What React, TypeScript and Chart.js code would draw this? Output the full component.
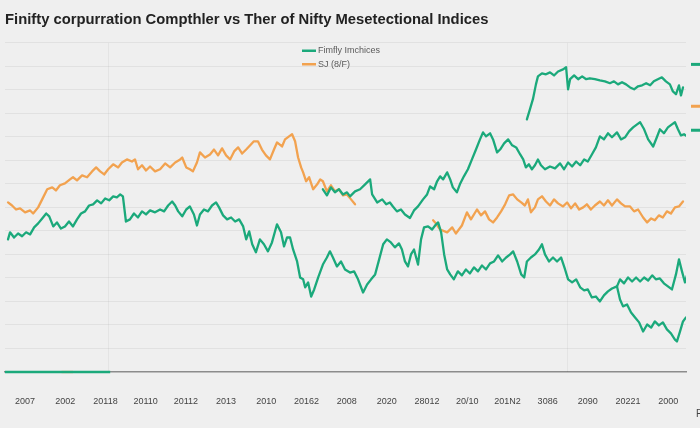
import React, { useEffect, useRef } from "react";
import { Chart, registerables } from "chart.js";

Chart.register(...registerables);

const TITLE = "Finifty corpurration Compthler vs Ther of Nifty Mesetectional Indices";
const X_LABELS = ["2007", "2002", "20118", "20110", "20112", "2013", "2010", "20162", "2008", "2020", "28012", "20/10", "201N2", "3086", "2090", "20221", "2000"];
const X_STEP = 12;
const LEGEND_LABELS = ["Fimfly Imchices", "SJ (8/F)"];
const GREEN = "#1ba97b";
const ORANGE = "#f2a24f";

const GREEN_TOP: [number, number][] = [
  [151.3, 1074], [152.2, 1117], [153.1, 1160], [154.0, 1223], [154.6, 1257], [155.8, 1270], [157.0, 1266],
  [158.2, 1274], [159.4, 1261], [160.6, 1278], [162.1, 1287], [163.0, 1296], [163.6, 1202], [164.2, 1245],
  [165.4, 1261], [166.6, 1245], [167.8, 1257], [169.0, 1245], [170.1, 1249], [171.6, 1245], [173.1, 1240],
  [174.6, 1236], [176.1, 1228], [177.3, 1236], [178.5, 1223], [179.7, 1232], [180.9, 1223], [182.1, 1210],
  [183.3, 1202], [184.5, 1215], [185.7, 1219], [186.9, 1228], [188.1, 1219], [189.2, 1236], [190.4, 1245],
  [191.6, 1253], [192.8, 1236], [194.0, 1223], [194.9, 1193], [195.8, 1181], [196.7, 1219], [197.3, 1176],
  [197.9, 1210],
];

const GREEN_MID: [number, number][] = [
  [90.4, 777], [91.6, 751], [92.8, 785], [94.0, 764], [95.2, 777], [96.4, 755], [97.6, 764], [98.5, 747],
  [100.0, 768], [101.5, 777], [103.0, 798], [104.5, 819], [105.1, 755], [106.6, 721], [108.1, 734], [109.3, 713],
  [110.4, 721], [111.3, 704], [112.5, 683], [113.7, 691], [114.9, 670], [116.4, 655], [117.6, 687], [118.8, 704],
  [120.3, 734], [121.5, 755], [122.4, 789], [123.6, 777], [124.5, 811], [125.4, 832], [126.3, 819], [127.5, 849],
  [128.4, 819], [129.2, 785], [130.4, 764], [131.3, 798], [132.5, 832], [133.7, 862], [134.9, 904], [136.1, 946],
  [137.3, 989], [138.2, 1019], [139.1, 1002], [140.3, 1015], [141.2, 989], [142.4, 934], [143.3, 946], [144.5, 972],
  [145.7, 989], [146.9, 964], [148.1, 955], [149.3, 925], [150.2, 904], [151.0, 870], [151.9, 883], [152.8, 862],
  [153.7, 879], [154.6, 904], [155.5, 879], [156.7, 862], [158.2, 874], [159.7, 866], [161.2, 887], [162.4, 862],
  [163.6, 891], [164.8, 874], [166.0, 895], [167.2, 879], [168.4, 904], [169.5, 895], [170.7, 925], [171.9, 955],
  [173.1, 1002], [174.3, 989], [175.5, 1015], [176.7, 998], [178.2, 1019], [179.4, 989], [180.6, 998], [181.8, 1023],
  [183.0, 1040], [184.2, 1053], [185.1, 1062], [186.3, 1032], [187.5, 989], [189.0, 959], [190.1, 998], [191.0, 1032],
  [192.2, 1015], [193.4, 1040], [194.6, 1053], [195.5, 1062], [196.4, 1032], [197.3, 1006], [198.2, 1011], [199.1, 1002],
];

const GREEN_LOW: [number, number][] = [
  [-3.6, 564], [-3.0, 594], [-1.8, 572], [-0.6, 589], [0.6, 577], [1.8, 594], [3.0, 585], [4.2, 615], [5.4, 632],
  [6.6, 653], [7.8, 674], [8.7, 662], [9.9, 619], [11.0, 636], [12.2, 610], [13.4, 619], [14.6, 640], [15.8, 619],
  [17.0, 649], [18.2, 674], [19.4, 683], [20.6, 708], [21.8, 713], [23.0, 730], [24.2, 717], [25.4, 738], [26.6, 730],
  [27.8, 747], [28.9, 743], [29.9, 755], [30.7, 747], [31.6, 640], [32.8, 649], [34.0, 674], [35.2, 657], [36.4, 683],
  [37.6, 670], [38.8, 687], [40.3, 679], [41.8, 691], [43.0, 683], [44.2, 708], [45.4, 725], [46.3, 708], [47.2, 683],
  [48.4, 662], [49.6, 691], [50.7, 704], [51.9, 670], [52.8, 623], [53.7, 670], [54.9, 691], [56.1, 683], [57.3, 708],
  [58.5, 721], [59.4, 700], [60.6, 666], [61.8, 649], [63.0, 657], [64.2, 640], [65.4, 649], [66.6, 619], [67.5, 564],
  [68.4, 598], [69.3, 543], [70.4, 509], [71.6, 564], [72.8, 543], [74.0, 513], [75.2, 551], [76.7, 628], [77.9, 594],
  [78.8, 534], [79.7, 572], [80.6, 572], [81.5, 521], [82.7, 470], [83.6, 402], [84.5, 394], [85.1, 360], [86.0, 381],
  [86.9, 321], [87.8, 351], [89.0, 402], [90.4, 457], [91.6, 487], [92.5, 513], [93.4, 487], [94.6, 449], [95.8, 470],
  [97.0, 436], [98.5, 423], [99.7, 428], [100.9, 394], [102.4, 338], [103.6, 372], [104.8, 394], [106.0, 415],
  [107.2, 479], [108.4, 543], [109.5, 564], [110.7, 551], [111.9, 530], [113.1, 547], [114.0, 521], [114.9, 470],
  [115.8, 449], [116.7, 500], [117.6, 521], [118.8, 457], [119.7, 564], [120.6, 615], [121.8, 619], [123.0, 606],
  [124.2, 628], [124.8, 636], [125.7, 594], [126.6, 500], [127.5, 436], [128.4, 415], [129.5, 394], [130.7, 428],
  [131.9, 411], [133.1, 436], [134.3, 419], [135.5, 445], [136.7, 428], [137.9, 453], [139.1, 436], [140.3, 462],
  [141.5, 470], [142.7, 496], [143.9, 470], [145.1, 487], [146.3, 500], [147.2, 513], [148.4, 470], [149.6, 415],
  [150.5, 402], [151.3, 470], [152.5, 487], [153.7, 500], [154.9, 521], [155.8, 543], [156.7, 500], [157.9, 470],
  [159.1, 487], [160.3, 470], [161.5, 487], [162.7, 436], [163.6, 394], [164.8, 381], [166.0, 394], [167.2, 360],
  [168.4, 347], [169.5, 351], [170.7, 317], [171.9, 321], [173.1, 300], [174.3, 326], [175.5, 343], [176.7, 355],
  [178.2, 364],
];

const GREEN_LOW_UPPER: [number, number][] = [
  [178.2, 364], [179.1, 394], [180.3, 377], [181.5, 402], [182.7, 385], [183.9, 402], [185.1, 385], [186.3, 402],
  [187.5, 389], [188.7, 411], [189.8, 394], [191.0, 398], [192.2, 377], [193.4, 364], [194.6, 351], [195.8, 415],
  [196.7, 479], [197.6, 428], [198.5, 381], [199.1, 411],
];

const GREEN_LOW_LOWER: [number, number][] = [
  [178.2, 364], [179.1, 308], [180.0, 279], [181.2, 287], [182.4, 253], [183.6, 232], [184.8, 211], [186.0, 172],
  [187.2, 202], [188.4, 189], [189.5, 215], [190.7, 198], [191.9, 211], [193.1, 181], [194.3, 164], [195.5, 138],
  [196.1, 130], [197.0, 172], [197.9, 215], [198.8, 232],
];

const ORANGE_LEFT: [number, number][] = [
  [-3.6, 721], [-2.4, 708], [-1.2, 691], [0, 696], [1.5, 679], [3.0, 687], [3.9, 674], [5.4, 700], [6.6, 734],
  [8.1, 777], [9.6, 785], [10.7, 772], [11.9, 794], [13.4, 802], [14.9, 819], [15.8, 828], [17.0, 815], [18.5, 836],
  [20.0, 828], [21.5, 853], [22.7, 870], [23.9, 853], [25.1, 840], [26.3, 862], [27.8, 883], [29.3, 870], [30.4, 891],
  [31.9, 904], [33.4, 895], [34.3, 904], [35.2, 862], [36.4, 879], [37.6, 857], [38.8, 874], [40.3, 853], [41.8, 862],
  [43.3, 887], [44.8, 870], [46.3, 891], [47.8, 904], [48.4, 912], [49.6, 870], [50.7, 862], [51.6, 853], [52.8, 891],
  [53.7, 934], [55.2, 912], [56.7, 925], [57.9, 946], [59.1, 921], [60.3, 951], [61.5, 921], [62.7, 904], [63.9, 938],
  [65.1, 955], [66.3, 929], [67.5, 946], [68.7, 964], [69.8, 981], [71.0, 981], [72.2, 946], [73.4, 921], [74.6, 904],
  [75.8, 946], [76.7, 976], [78.2, 959], [79.1, 989], [80.3, 1002], [81.2, 1011], [82.1, 981], [83.0, 912], [83.9, 870],
  [84.5, 849], [85.4, 811], [86.3, 828], [87.5, 777], [88.7, 798], [89.6, 819], [90.4, 811], [91.6, 768], [92.8, 794],
  [94.0, 768], [95.2, 777], [96.4, 751], [97.6, 755], [98.8, 734], [100.0, 713],
];

const ORANGE_RIGHT: [number, number][] = [
  [123.3, 645], [123.9, 636], [125.4, 606],
  [127.5, 594], [129.0, 615], [130.1, 589], [131.9, 623], [133.4, 679], [134.6, 649], [136.4, 691], [137.6, 666],
  [138.8, 683], [140.0, 649], [141.2, 636], [142.4, 657], [143.6, 683], [144.8, 713], [146.0, 751], [147.2, 755],
  [148.4, 734], [149.6, 721], [150.7, 708], [151.6, 734], [152.5, 679], [153.7, 700], [154.6, 734], [155.8, 747],
  [157.0, 725], [158.2, 708], [159.4, 734], [160.6, 717], [162.1, 704], [163.3, 721], [164.5, 696], [165.7, 717],
  [166.9, 691], [168.1, 700], [169.2, 713], [170.4, 691], [171.6, 708], [173.1, 725], [174.3, 708], [175.5, 730],
  [176.7, 708], [178.2, 734], [179.4, 717], [180.6, 704], [182.1, 704], [183.3, 683], [184.5, 691], [186.0, 657],
  [187.2, 636], [188.4, 653], [189.5, 645], [190.7, 666], [191.9, 657], [193.1, 683], [194.3, 674], [195.5, 700],
  [196.7, 704], [197.9, 725],
];

const BASE_GREEN: [number, number][] = [[-4.5, 0], [26.9, 0]];
const BASE_ORANGE: [number, number][] = [[12.4, 0], [15.8, 0]];

const SIDE_MARKERS: [number, string][] = [[1308, GREEN], [1130, ORANGE], [1028, GREEN]];
const V_GRID = [26.3, 163.3];

const toXY = (arr: [number, number][]) => arr.map(([x, y]) => ({ x, y }));

const line = (label: string, data: [number, number][], color: string, extra: any = {}) => ({
  label,
  data: toXY(data),
  borderColor: color,
  backgroundColor: color,
  borderWidth: 2.3,
  pointRadius: 0,
  tension: 0,
  fill: false,
  borderJoinStyle: "round" as const,
  borderCapStyle: "round" as const,
  ...extra,
});

const overlayPlugin = {
  id: "overlay",
  beforeDatasetsDraw(chart: any) {
    const { ctx, chartArea, scales } = chart;
    ctx.save();
    ctx.strokeStyle = "rgba(0,0,0,0.045)";
    ctx.lineWidth = 1;
    V_GRID.forEach((v) => {
      const x = Math.round(scales.x.getPixelForValue(v)) + 0.5;
      ctx.beginPath();
      ctx.moveTo(x, chartArea.top);
      ctx.lineTo(x, chartArea.bottom);
      ctx.stroke();
    });
    ctx.restore();
  },
  afterDraw(chart: any) {
    const { ctx, chartArea, scales } = chart;
    ctx.save();
    const colors = [GREEN, ORANGE];
    LEGEND_LABELS.forEach((lab, i) => {
      const y = chartArea.top + 8 + i * 13.5;
      const x0 = chartArea.left + 297;
      ctx.strokeStyle = colors[i];
      ctx.lineWidth = 2.5;
      ctx.beginPath();
      ctx.moveTo(x0, y);
      ctx.lineTo(x0 + 14, y);
      ctx.stroke();
      ctx.fillStyle = "#5a5a5a";
      ctx.font = "9px 'Liberation Sans', Arial, sans-serif";
      ctx.textBaseline = "middle";
      ctx.textAlign = "left";
      ctx.fillText(lab, x0 + 16, y);
    });
    SIDE_MARKERS.forEach(([v, c]) => {
      const y = scales.y.getPixelForValue(v);
      ctx.strokeStyle = c;
      ctx.lineWidth = 3;
      ctx.beginPath();
      ctx.moveTo(chartArea.right + 5, y);
      ctx.lineTo(chartArea.right + 14, y);
      ctx.stroke();
    });
    ctx.fillStyle = "#444";
    ctx.font = "10px 'Liberation Sans', Arial, sans-serif";
    ctx.textAlign = "left";
    ctx.textBaseline = "middle";
    ctx.fillText("F", chartArea.right + 10, chartArea.bottom + 42);
    ctx.restore();
  },
};

export default function App() {
  const ref = useRef<HTMLCanvasElement | null>(null);

  useEffect(() => {
    if (!ref.current) return;
    const chart = new Chart(ref.current, {
      type: "line",
      data: {
        datasets: [
          line(LEGEND_LABELS[0], GREEN_TOP, GREEN),
          line("mid", GREEN_MID, GREEN),
          line("low", GREEN_LOW, GREEN),
          line("lowUpper", GREEN_LOW_UPPER, GREEN),
          line("lowLower", GREEN_LOW_LOWER, GREEN),
          line("baseGreen", BASE_GREEN, GREEN, { clip: false, borderCapStyle: "butt" }),
          line(LEGEND_LABELS[1], ORANGE_LEFT, ORANGE),
          line("orangeRight", ORANGE_RIGHT, ORANGE),
          line("baseOrange", BASE_ORANGE, ORANGE, { clip: false, borderCapStyle: "butt" }),
        ] as any,
      },
      options: {
        animation: false,
        responsive: false,
        parsing: false as any,
        layout: { padding: { left: 5, right: 14, top: 0, bottom: 21 } },
        plugins: {
          legend: { display: false },
          tooltip: { enabled: false },
          title: {
            display: true,
            text: TITLE,
            align: "start",
            color: "#222",
            font: { family: "'Liberation Sans', Arial, sans-serif", size: 14.8, weight: "bold" },
            padding: { top: 11, bottom: 14 },
          },
        },
        scales: {
          x: {
            type: "linear",
            min: -4.5,
            max: 198.8,
            afterBuildTicks: (scale: any) => {
              scale.ticks = X_LABELS.map((_, i) => ({ value: i * X_STEP }));
            },
            afterFit: (scale: any) => {
              scale.paddingLeft = 0;
              scale.paddingRight = 0;
              scale.height = 35;
            },
            grid: { display: false, drawTicks: false },
            border: { display: true, color: "#8c8c8c", width: 1.5 },
            ticks: {
              autoSkip: false,
              maxRotation: 0,
              padding: 24,
              labelOffset: 5,
              color: "#444",
              font: { family: "'Liberation Sans', Arial, sans-serif", size: 9 },
              callback: (v: any) => X_LABELS[Math.round(Number(v) / X_STEP)] ?? "",
            },
          },
          y: {
            type: "linear",
            min: 0,
            max: 1400,
            afterFit: (scale: any) => {
              scale.width = 0;
            },
            ticks: { display: false, stepSize: 100 },
            border: { display: false },
            grid: {
              drawTicks: false,
              color: (ctx: any) => (ctx.tick && ctx.tick.value === 0 ? "rgba(0,0,0,0)" : "rgba(0,0,0,0.055)"),
              lineWidth: 1,
            },
          },
        },
      },
      plugins: [overlayPlugin],
    });
    return () => chart.destroy();
  }, []);

  return (
    <div style={{ position: "absolute", left: 0, top: 0, width: 700, height: 428, background: "#efefef" }}>
      <canvas ref={ref} width={700} height={428} style={{ display: "block" }} />
    </div>
  );
}
